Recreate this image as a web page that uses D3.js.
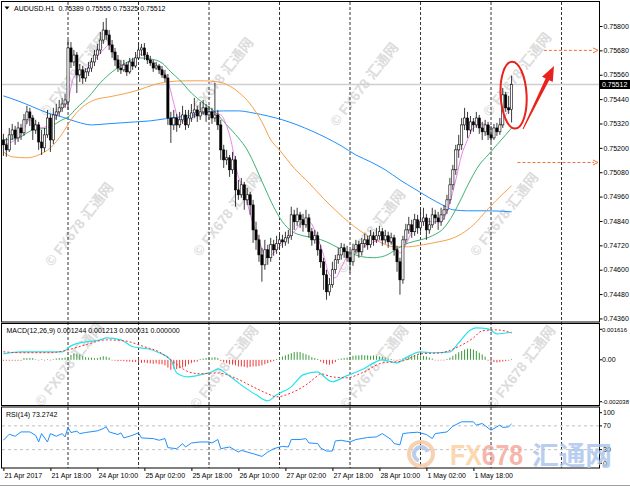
<!DOCTYPE html>
<html><head><meta charset="utf-8">
<script src="https://cdn.jsdelivr.net/npm/d3@7"></script>
<style>
html,body{margin:0;padding:0;background:#fff;}
svg{display:block;font-family:"Liberation Sans",Arial,"Noto Sans CJK SC",sans-serif;}
</style></head><body>
<svg id="c" width="630" height="490"></svg>
<script>
// ---------------- DATA ----------------
const symbol = "AUDUSD.H1";
const open = [.75239,.75215,.75190,.75264,.75288,.75249,.75298,.75274,.75338,.75377,
.75347,.75288,.75313,.75229,.75200,.75264,.75347,.75239,.75362,.75377,
.75397,.75416,.75426,.75692,.75623,.75657,.75559,.75584,.75544,.75574,
.75593,.75623,.75657,.75682,.75731,.75780,.75756,.75707,.75672,.75633,
.75593,.75584,.75608,.75574,.75623,.75603,.75643,.75682,.75692,.75657,
.75633,.75618,.75593,.75603,.75584,.75559,.75544,.75347,.75313,.75347,
.75313,.75338,.75362,.75313,.75347,.75372,.75387,.75357,.75377,.75397,
.75362,.75377,.75347,.75362,.75313,.75190,.75141,.75151,.75092,.75141,
.74993,.74969,.75018,.74944,.74969,.74919,.74796,.74747,.74673,.74624,
.74698,.74659,.74723,.74698,.74728,.74747,.74737,.74757,.74767,.74870,
.74836,.74870,.74846,.74821,.74855,.74787,.74747,.74767,.74698,.74639,
.74575,.74491,.74526,.74600,.74649,.74673,.74708,.74688,.74659,.74639,
.74698,.74723,.74688,.74728,.74747,.74723,.74767,.74747,.74767,.74787,
.74747,.74767,.74737,.74757,.74698,.74639,.74550,.74747,.74796,.74821,
.74787,.74846,.74806,.74836,.74855,.74796,.74821,.74870,.74855,.74836,
.74870,.74895,.74944,.75018,.75092,.75190,.75215,.75313,.75347,.75288,
.75328,.75313,.75347,.75298,.75279,.75313,.75264,.75249,.75298,.75279,
.75313,.75461,.75397,.75389];
const high = [.75269,.75249,.75298,.75318,.75308,.75328,.75318,.75367,.75407,.75397,
.75362,.75338,.75328,.75288,.75298,.75387,.75367,.75397,.75416,.75436,
.75446,.75466,.75731,.75721,.75682,.75672,.75613,.75603,.75593,.75623,
.75643,.75682,.75712,.75771,.75820,.75839,.75780,.75731,.75692,.75657,
.75633,.75633,.75623,.75643,.75643,.75672,.75716,.75712,.75716,.75672,
.75653,.75633,.75623,.75613,.75603,.75584,.75564,.75377,.75387,.75367,
.75377,.75407,.75387,.75387,.75416,.75446,.75407,.75426,.75436,.75416,
.75407,.75397,.75520,.75387,.75338,.75215,.75190,.75165,.75180,.75160,
.75042,.75052,.75033,.75003,.74983,.74944,.74836,.74772,.74708,.74747,
.74723,.74757,.74747,.74767,.74777,.74772,.74787,.74796,.74910,.74895,
.74905,.74885,.74875,.74895,.74875,.74806,.74796,.74787,.74723,.74659,
.74600,.74560,.74639,.74673,.74708,.74732,.74728,.74718,.74698,.74728,
.74747,.74742,.74757,.74777,.74767,.74796,.74787,.74806,.74816,.74806,
.74796,.74787,.74782,.74772,.74718,.74659,.74767,.74826,.74860,.74846,
.74875,.74870,.74895,.74905,.74875,.74855,.74905,.74895,.74885,.74905,
.74919,.74969,.75052,.75116,.75215,.75264,.75347,.75397,.75377,.75357,
.75347,.75377,.75362,.75328,.75338,.75328,.75308,.75318,.75323,.75347,
.75495,.75475,.75456,.75555];
const low = [.75160,.75156,.75180,.75239,.75215,.75229,.75239,.75259,.75318,.75308,
.75239,.75269,.75190,.75165,.75180,.75249,.75180,.75219,.75338,.75357,
.75377,.75397,.75387,.75593,.75603,.75470,.75525,.75515,.75525,.75554,
.75574,.75603,.75633,.75662,.75712,.75731,.75682,.75643,.75603,.75574,
.75564,.75574,.75554,.75564,.75584,.75593,.75633,.75653,.75633,.75613,
.75603,.75574,.75584,.75564,.75544,.75525,.75313,.75224,.75288,.75279,
.75298,.75318,.75288,.75298,.75328,.75347,.75328,.75338,.75362,.75328,
.75338,.75318,.75328,.75288,.75141,.75101,.75116,.75057,.75072,.74910,
.74944,.74954,.74895,.74919,.74870,.74732,.74698,.74639,.74541,.74600,
.74624,.74639,.74669,.74678,.74698,.74708,.74718,.74728,.74747,.74796,
.74816,.74806,.74787,.74806,.74757,.74718,.74728,.74669,.74609,.74501,
.74452,.74472,.74511,.74580,.74629,.74649,.74659,.74639,.74585,.74619,
.74678,.74659,.74669,.74708,.74698,.74708,.74718,.74732,.74747,.74718,
.74728,.74708,.74723,.74669,.74590,.74477,.74531,.74728,.74777,.74757,
.74767,.74777,.74787,.74816,.74747,.74777,.74806,.74826,.74796,.74816,
.74846,.74875,.74924,.74993,.75067,.75151,.75190,.75288,.75249,.75269,
.75279,.75298,.75269,.75239,.75259,.75239,.75229,.75239,.75259,.75264,
.75298,.75377,.75367,.75325];
const close = [.75215,.75190,.75264,.75288,.75249,.75298,.75274,.75338,.75377,.75347,
.75288,.75313,.75229,.75200,.75264,.75347,.75239,.75362,.75377,.75397,
.75416,.75436,.75692,.75623,.75657,.75559,.75584,.75544,.75574,.75593,
.75623,.75657,.75682,.75731,.75780,.75756,.75707,.75672,.75633,.75593,
.75584,.75608,.75574,.75623,.75603,.75643,.75682,.75692,.75657,.75633,
.75618,.75593,.75603,.75584,.75559,.75544,.75347,.75313,.75347,.75313,
.75338,.75362,.75313,.75347,.75372,.75387,.75357,.75377,.75397,.75362,
.75377,.75347,.75362,.75313,.75190,.75141,.75151,.75092,.75141,.74993,
.74969,.75018,.74944,.74969,.74919,.74796,.74747,.74673,.74624,.74698,
.74659,.74723,.74698,.74728,.74747,.74737,.74757,.74767,.74870,.74836,
.74870,.74846,.74821,.74855,.74787,.74747,.74767,.74698,.74639,.74575,
.74491,.74526,.74600,.74649,.74673,.74708,.74688,.74659,.74639,.74698,
.74723,.74688,.74728,.74747,.74723,.74767,.74747,.74767,.74787,.74747,
.74767,.74737,.74757,.74698,.74639,.74550,.74747,.74796,.74821,.74787,
.74846,.74806,.74836,.74855,.74796,.74821,.74870,.74855,.74836,.74870,
.74895,.74944,.75018,.75092,.75190,.75215,.75313,.75347,.75288,.75328,
.75313,.75347,.75298,.75279,.75313,.75264,.75249,.75298,.75279,.75313,
.75461,.75397,.75387,.75512];

// moving averages: [bar index, price]
const maViolet = [[0,.75215],[6,.75264],[9,.75338],[12,.75298],[16,.75313],[19,.75377],[22,.75436],[24,.75549],[28,.75584],[31,.75633],[34,.75682],[36,.75707],[38,.75652],[40,.75608],[43,.75608],[46,.75662],[50,.75633],[53,.75598],[56,.75530],[58,.75420],[60,.75330],[64,.75347],[67,.75367],[70,.75377],[74,.75362],[76,.75308],[78,.75200],[79,.75116],[82,.74978],[86,.74782],[90,.74664],[93,.74698],[96,.74747],[99,.74787],[102,.74836],[104,.74836],[107,.74757],[109,.74673],[111,.74575],[113,.74560],[115,.74609],[117,.74664],[121,.74698],[126,.74737],[130,.74747],[133,.74723],[135,.74683],[137,.74723],[139,.74787],[142,.74846],[146,.74836],[149,.74836],[151,.74885],[154,.75042],[156,.75165],[158,.75239],[160,.75298],[163,.75318],[166,.75298],[168,.75288],[170,.75338],[173,.75407]];
const maGreen = [[0,.75239],[5,.75249],[10,.75288],[15,.75298],[20,.75338],[22,.75352],[25,.75397],[29,.75451],[33,.75520],[37,.75574],[41,.75613],[46,.75643],[50,.75638],[54,.75618],[57,.75574],[60,.75534],[64,.75470],[68,.75421],[72,.75377],[76,.75313],[80,.75249],[83,.75190],[86,.75101],[89,.75003],[92,.74910],[95,.74836],[98,.74791],[102,.74767],[106,.74757],[110,.74737],[114,.74708],[118,.74683],[122,.74664],[126,.74659],[130,.74669],[134,.74703],[138,.74732],[142,.74747],[146,.74767],[150,.74806],[153,.74870],[156,.74954],[159,.75042],[162,.75116],[165,.75165],[168,.75215],[171,.75264],[173,.75298]];
const maOrange = [[0,.75180],[3,.75156],[8,.75151],[12,.75165],[16,.75200],[20,.75269],[23,.75338],[27,.75402],[31,.75436],[36,.75451],[41,.75466],[46,.75485],[51,.75510],[56,.75525],[62,.75530],[68,.75530],[73,.75525],[77,.75505],[80,.75475],[84,.75416],[88,.75328],[91,.75240],[94,.75189],[99,.75100],[104,.75028],[109,.74950],[114,.74880],[121,.74796],[128,.74737],[133,.74713],[138,.74713],[143,.74723],[148,.74737],[152,.74750],[156,.74777],[160,.74820],[165,.74900],[170,.74973],[173,.75013]];
const maBlue = [[0,.75456],[5,.75431],[10,.75402],[15,.75372],[20,.75352],[25,.75328],[30,.75313],[35,.75318],[40,.75323],[45,.75328],[50,.75333],[55,.75343],[60,.75352],[65,.75362],[70,.75377],[75,.75382],[80,.75382],[85,.75372],[90,.75357],[95,.75338],[100,.75313],[105,.75283],[110,.75249],[115,.75210],[120,.75165],[125,.75131],[130,.75092],[135,.75042],[140,.74998],[145,.74954],[150,.74915],[153,.74895],[158,.74890],[165,.74890],[173,.74885]];

// MACD(12,26,9): [bar index, value]
const macdMain = [[0,.00027],[6,.00036],[10,.00036],[20,.00036],[23,.00063],[28,.00081],[33,.0009],[35,.00099],[40,.0009],[44,.00059],[49,.0005],[53,.00032],[57,0],[59,-.00059],[63,-.00077],[67,-.00068],[71,-.00054],[73,-.00041],[76,-.00063],[80,-.00104],[86,-.00158],[90,-.00185],[93,-.00158],[98,-.00122],[102,-.00068],[107,-.00054],[108,-.00063],[112,-.00099],[116,-.00077],[122,-.00045],[129,0],[134,-.00014],[137,.00009],[142,.00036],[146,.00032],[152,.00036],[155,.00077],[159,.00135],[161,.00144],[165,.0014],[168,.00117],[173,.001244]];
const macdSignal = [[0,.00036],[6,.00032],[16,.00032],[22,.00045],[28,.00068],[35,.0009],[41,.00086],[48,.00059],[53,.00036],[58,-.0001],[63,-.00054],[67,-.00063],[73,-.00059],[78,-.00077],[85,-.00122],[90,-.00153],[93,-.00167],[98,-.00149],[103,-.00113],[107,-.00072],[108,-.00063],[112,-.00077],[117,-.00081],[122,-.00059],[129,-.00014],[136,-.00005],[142,.00027],[149,.00032],[154,.00054],[160,.00099],[163,.00131],[168,.00135],[173,.001213]];
const macdHist = [-.00004,-.00004,-.00004,-.00004,-.00004,-.00004,-.00004,
.00008,.00008,.00008,.00008,
.00002,-.00002,.00002,-.00002,.00002,-.00002,.00002,
.00006,.00008,.00008,.0001,
.00012,.00022,.0003,.00028,.00024,.00018,
.00012,.0001,.0001,.00008,.00008,
.00012,.00016,.00014,.0001,
-.00003,-.00004,-.00006,-.00005,-.00006,-.00008,-.00008,-.0001,
-.0001,-.00012,-.00014,-.00012,-.00015,-.00016,-.00018,-.00016,-.0002,
-.0002,-.00025,-.00035,-.00045,-.0004,-.00042,-.00038,-.00035,-.0003,
-.0002,-.00015,-.0001,-.00008,
.00004,.00006,.00008,.0001,.0001,.00012,.00008,
-.00005,-.0001,-.00015,-.0002,-.00022,-.00025,-.0003,-.0003,-.00032,-.00035,-.00032,-.0003,-.0003,-.00028,-.00025,-.0002,-.00015,-.0001,-.00006,
.00004,.0001,.00015,.0002,.00025,.0003,.00035,.00036,.00035,.0003,.00025,.0002,
.00012,.00008,.00004,
-.00008,-.00015,-.0002,-.00022,-.00018,-.0001,
.00003,.00006,.00008,
.0001,.00014,.00018,.0002,.0002,.00022,.0002,.0002,.00018,.0002,.00018,.00016,.00014,.0001,
.00006,.00004,-.00002,-.00004,.00002,
.00006,.0001,.00015,.0002,.00022,.0002,.0002,.00018,.00015,.0001,.00006,
-.00002,-.00003,-.00002,-.00001,
.00004,.0001,.00018,.00026,.00034,.0004,.00046,.0005,.0005,.00046,.0004,.00032,.00024,.00014,
-.00004,-.00008,-.0001,-.00012,-.0001,-.00008,-.00006,-.00004,.000031];
const macdLast = [0.001244, 0.001213, 0.000031, 0.000000];

// RSI(14): [bar index, value]
const rsi = [[0,45.8],[2,55.9],[4,52.5],[6,59.8],[9,59.8],[11,54],[12,42.9],[13,57],[15,42.9],[16,57],[18,52.5],[20,57],[21,51.4],[22,67.3],[23,58.8],[25,61],[26,57],[28,58.8],[32,61.6],[34,65.5],[35,68.4],[36,59.8],[39,55.4],[40,58.2],[41,49.7],[44,54.2],[46,58.2],[47,49.7],[51,48.6],[53,45.8],[55,48.6],[56,33.4],[59,31.6],[61,40],[62,34.5],[64,41.2],[67,42.9],[70,42.9],[71,41.2],[73,47],[74,31.6],[77,34.5],[80,26],[81,28.8],[85,23.2],[88,18.6],[90,26],[92,31.6],[95,35.6],[97,34.5],[98,47],[101,47],[103,48.6],[104,41.2],[107,40.3],[108,32.7],[110,27.6],[112,27.6],[113,44.6],[115,45.8],[118,42.9],[120,47],[124,50.4],[127,51.4],[129,57],[132,47],[133,40.3],[135,38],[136,57],[138,58.2],[141,59.3],[144,55.4],[146,48.6],[147,57],[151,59.8],[153,69.5],[156,76.8],[160,76.8],[161,71.2],[163,74],[166,62.7],[169,71.2],[170,67.3],[172,68.4],[173,73.2742]];
const rsiLevels = [70, 30];
const rsiLabels = [100, 70, 30, 0];

const priceTicks = [0.758,0.7568,0.7556,0.7544,0.7532,0.752,0.7508,0.7496,0.7484,0.7472,0.746,0.7448,0.7436];
const macdLabels = [[0.001616,"0.001616"],[0,"0.00"],[-0.002038,"-0.002038"]];
const timeLabels = [[0,"21 Apr 2017"],[16,"21 Apr 18:00"],[32,"24 Apr 10:00"],[48,"25 Apr 02:00"],[64,"25 Apr 18:00"],[80,"26 Apr 10:00"],[96,"27 Apr 02:00"],[112,"27 Apr 18:00"],[128,"28 Apr 10:00"],[144,"1 May 02:00"],[160,"1 May 18:00"]];
const daySeparators = [22,46,70,94,118,142,166,190];
const targets = [[0.75680,184],[0.75128,175]]; // [price, start bar]

// ---------------- DRAW ----------------
const svg = d3.select("#c");
const N = close.length;
svg.append("rect").attr("width",630).attr("height",490).attr("fill","#fff");

const x = d3.scaleLinear().domain([0,202]).range([3.4,596.775]);
const yP = d3.scaleLinear().domain([0.743425,0.759182]).range([322,2]);
const yM = d3.scaleLinear().domain([-0.002038,0.001616]).range([405,324]);
const yR = d3.scaleLinear().domain([0,100]).range([467.5,408]);

const defs = svg.append("defs");
const clip = (id,y,h)=>defs.append("clipPath").attr("id",id).append("rect").attr("x",2).attr("y",y).attr("width",597).attr("height",h);
clip("cp",2,320); clip("cm",324,81); clip("cr",408,60); clip("ca",2,466);

// watermarks
const wmG = svg.append("g").attr("clip-path","url(#ca)");
[[75,75],[220,80],[365,85],[518,75],[80,225],[228,215],[372,232],[505,215],[70,365],[225,368],[375,368],[522,368]].forEach(([cx,cy])=>{
  wmG.append("text").attr("transform",`translate(${cx},${cy}) rotate(-52)`)
    .attr("text-anchor","middle").attr("dominant-baseline","middle")
    .attr("font-size",14).attr("font-weight","bold").attr("fill","#dcdcdc")
    .attr("font-family","'Liberation Sans','Noto Sans CJK SC',sans-serif")
    .text("© FX678 汇通网");
});

// period separators
svg.append("g").selectAll("line").data(daySeparators).join("line")
  .attr("x1",d=>x(d)).attr("x2",d=>x(d)).attr("y1",2).attr("y2",468)
  .attr("stroke","#333").attr("stroke-width",1).attr("stroke-dasharray","3,2");

// bid line
svg.append("line").attr("x1",2).attr("x2",599).attr("y1",yP(close[N-1])).attr("y2",yP(close[N-1]))
  .attr("stroke","#cfcfcf").attr("stroke-width",1.5);

const mainG = svg.append("g").attr("clip-path","url(#cp)");
const maLine = d3.line().x(d=>x(d[0])).y(d=>yP(d[1])).curve(d3.curveMonotoneX);
[[maBlue,"#1e90ff"],[maOrange,"#f7a04a"],[maGreen,"#3cb371"],[maViolet,"#ee82ee"]].forEach(([d,c])=>{
  mainG.append("path").attr("d",maLine(d)).attr("fill","none").attr("stroke",c).attr("stroke-width",1);
});

// candles
const idx = d3.range(N);
mainG.append("g").selectAll("line").data(idx).join("line")
  .attr("x1",i=>x(i)).attr("x2",i=>x(i)).attr("y1",i=>yP(high[i])).attr("y2",i=>yP(low[i]))
  .attr("stroke","#222").attr("stroke-width",0.9);
mainG.append("g").selectAll("rect").data(idx).join("rect")
  .attr("x",i=>x(i)-1.1).attr("width",2.2)
  .attr("y",i=>yP(Math.max(open[i],close[i])))
  .attr("height",i=>Math.max(0.8,Math.abs(yP(open[i])-yP(close[i]))))
  .attr("fill",i=>close[i]>=open[i]?"#fff":"#000")
  .attr("stroke","#000").attr("stroke-width",0.6);

// annotations: ellipse + arrow + target lines
const ecx = x(N-1)+2, ecy = (yP(high[N-1])+yP(low[N-1]))/2-4;
mainG.append("ellipse").attr("cx",ecx).attr("cy",ecy)
  .attr("rx",13).attr("ry",33.5).attr("transform",`rotate(-3,${ecx},${ecy})`)
  .attr("fill","none").attr("stroke","#e8231d").attr("stroke-width",2);
(function(){
  const x0=523,y0=129,tx=554,ty=66;
  const L=Math.hypot(tx-x0,ty-y0), ux=(tx-x0)/L, uy=(ty-y0)/L, nx=-uy, ny=ux;
  const bx=tx-ux*15, by=ty-uy*15;
  const pts=[[x0+nx*0.5,y0+ny*0.5],[bx+nx*2,by+ny*2],[bx+nx*6,by+ny*6],[tx,ty],[bx-nx*6,by-ny*6],[bx-nx*2,by-ny*2],[x0-nx*0.5,y0-ny*0.5]];
  mainG.append("polygon").attr("points",pts.map(p=>p.join(",")).join(" ")).attr("fill","#e8231d");
})();
targets.forEach(([p,b])=>{
  const yy=yP(p);
  mainG.append("line").attr("x1",x(b)).attr("x2",594).attr("y1",yy).attr("y2",yy)
    .attr("stroke","#f4713b").attr("stroke-width",1).attr("stroke-dasharray","3,2");
  mainG.append("path").attr("d",`M593,${yy-2.5} L598,${yy} L593,${yy+2.5}`).attr("fill","none").attr("stroke","#f4713b").attr("stroke-width",1);
});

// MACD panel
const mG = svg.append("g").attr("clip-path","url(#cm)");
mG.append("g").selectAll("rect").data(idx).join("rect")
  .attr("x",i=>x(i)-0.5).attr("width",1)
  .attr("y",i=>Math.min(yM(0),yM(macdHist[i])))
  .attr("height",i=>Math.max(0.6,Math.abs(yM(macdHist[i])-yM(0))))
  .attr("fill",i=>macdHist[i]>=0?"#3a9a3a":"#f03a3a");
const mLine = d3.line().x(d=>x(d[0])).y(d=>yM(d[1])).curve(d3.curveMonotoneX);
mG.append("path").attr("d",mLine(macdMain)).attr("fill","none").attr("stroke","#22e4ee").attr("stroke-width",1.2);
mG.append("path").attr("d",mLine(macdSignal)).attr("fill","none").attr("stroke","#ff2a2a").attr("stroke-width",1).attr("stroke-dasharray","2,2");

// RSI panel
const rG = svg.append("g").attr("clip-path","url(#cr)");
rG.selectAll("line.lv").data(rsiLevels).join("line").attr("class","lv")
  .attr("x1",2).attr("x2",599).attr("y1",d=>yR(d)).attr("y2",d=>yR(d))
  .attr("stroke","#c0c0c0").attr("stroke-dasharray","3,3");
rG.append("path").attr("d",d3.line().x(d=>x(d[0])).y(d=>yR(d[1]))(rsi)).attr("fill","none").attr("stroke","#1e90ff").attr("stroke-width",1);

// frames
const frame = (y1,y2)=>svg.append("rect").attr("x",1.5).attr("y",y1).attr("width",598).attr("height",y2-y1)
  .attr("fill","none").attr("stroke","#000").attr("stroke-width",1);
frame(1.5,322); frame(323.5,405.5); frame(407,468);
svg.append("line").attr("x1",0).attr("x2",630).attr("y1",485.5).attr("y2",485.5).attr("stroke","#a0a0a0");

// price axis
const fmt5 = d3.format(".5f");
const gP = svg.append("g").attr("transform","translate(599.5,0)")
  .call(d3.axisRight(yP).tickValues(priceTicks).tickFormat(fmt5).tickSize(3).tickPadding(1));
gP.select(".domain").remove();
gP.selectAll("text").attr("font-size",7).attr("font-family","'Liberation Sans',Arial,sans-serif").attr("fill","#000");
// current price label
const yc = yP(close[N-1]);
svg.append("rect").attr("x",599.5).attr("y",yc-4.5).attr("width",31).attr("height",9).attr("fill","#000");
svg.append("text").attr("x",602).attr("y",yc+2.5).attr("font-size",7).attr("fill","#fff").text(fmt5(close[N-1]));

// MACD labels
macdLabels.forEach(([v,t])=>{
  const yy=Math.max(329.3,Math.min(401.7,yM(v)));
  svg.append("line").attr("x1",599.5).attr("x2",602).attr("y1",yy).attr("y2",yy).attr("stroke","#000");
  svg.append("text").attr("x",602).attr("y",yy+2.3).attr("font-size",t.length>5?6:7).attr("fill","#000").text(t);
});
// RSI labels
rsiLabels.forEach(v=>{
  const yy=Math.max(412.7,Math.min(463.3,yR(v)));
  svg.append("line").attr("x1",599.5).attr("x2",602).attr("y1",yy).attr("y2",yy).attr("stroke","#000");
  svg.append("text").attr("x",603).attr("y",yy+2.5).attr("font-size",7).attr("fill","#000").text(v);
});

// time axis
const tMap = new Map(timeLabels);
const gT = svg.append("g").attr("transform","translate(0,468)")
  .call(d3.axisBottom(x).tickValues(timeLabels.map(d=>d[0])).tickFormat(d=>tMap.get(d)).tickSize(3).tickPadding(0));
gT.select(".domain").remove();
gT.selectAll("text").attr("font-size",7).attr("font-family","'Liberation Sans',Arial,sans-serif")
  .attr("text-anchor","start").attr("x",0.5).attr("y",9.5).attr("dy",0).attr("fill","#000");

// headers
svg.append("path").attr("d","M4.5,6.5 L9.5,6.5 L7,9.5 Z").attr("fill","#000");
const hdr = svg.append("text").attr("x",14).attr("y",10.5).attr("font-size",7).attr("fill","#000");
hdr.append("tspan").text(symbol);
hdr.append("tspan").attr("dx",4).text([open[N-1],high[N-1],low[N-1],close[N-1]].map(fmt5).join(" "));
const fmt6 = d3.format(".6f");
svg.append("text").attr("x",6.5).attr("y",332.5).attr("font-size",7).attr("fill","#000")
  .text("MACD(12,26,9) "+macdLast.map(fmt6).join(" "));
svg.append("text").attr("x",6).attr("y",416.5).attr("font-size",7).attr("fill","#000")
  .text("RSI(14) "+d3.format(".4f")(rsi[rsi.length-1][1]));

// big logo
const logo = svg.append("g").attr("opacity",0.8);
logo.append("circle").attr("cx",421).attr("cy",454).attr("r",12).attr("fill","none").attr("stroke","#f6c7a0").attr("stroke-width",4);
logo.append("path").attr("transform","translate(421,454)")
  .attr("d",d3.arc()({innerRadius:5,outerRadius:9,startAngle:-Math.PI*0.9,endAngle:Math.PI*0.4})).attr("fill","#a9c2e6");
const fx = logo.append("text").attr("x",450).attr("y",465).attr("font-size",30).attr("font-weight","bold")
  .attr("textLength",73).attr("lengthAdjust","spacingAndGlyphs");
fx.append("tspan").attr("fill","#fbcf9c").text("FX");
fx.append("tspan").attr("fill","#f6a497").text("678");
logo.append("text").attr("x",532).attr("y",465).attr("font-size",26).attr("font-weight","bold")
  .attr("font-family","'Noto Sans CJK SC',sans-serif").attr("fill","#a8c3ea")
  .attr("textLength",80).attr("lengthAdjust","spacingAndGlyphs").text("汇通网");
</script>
</body></html>
